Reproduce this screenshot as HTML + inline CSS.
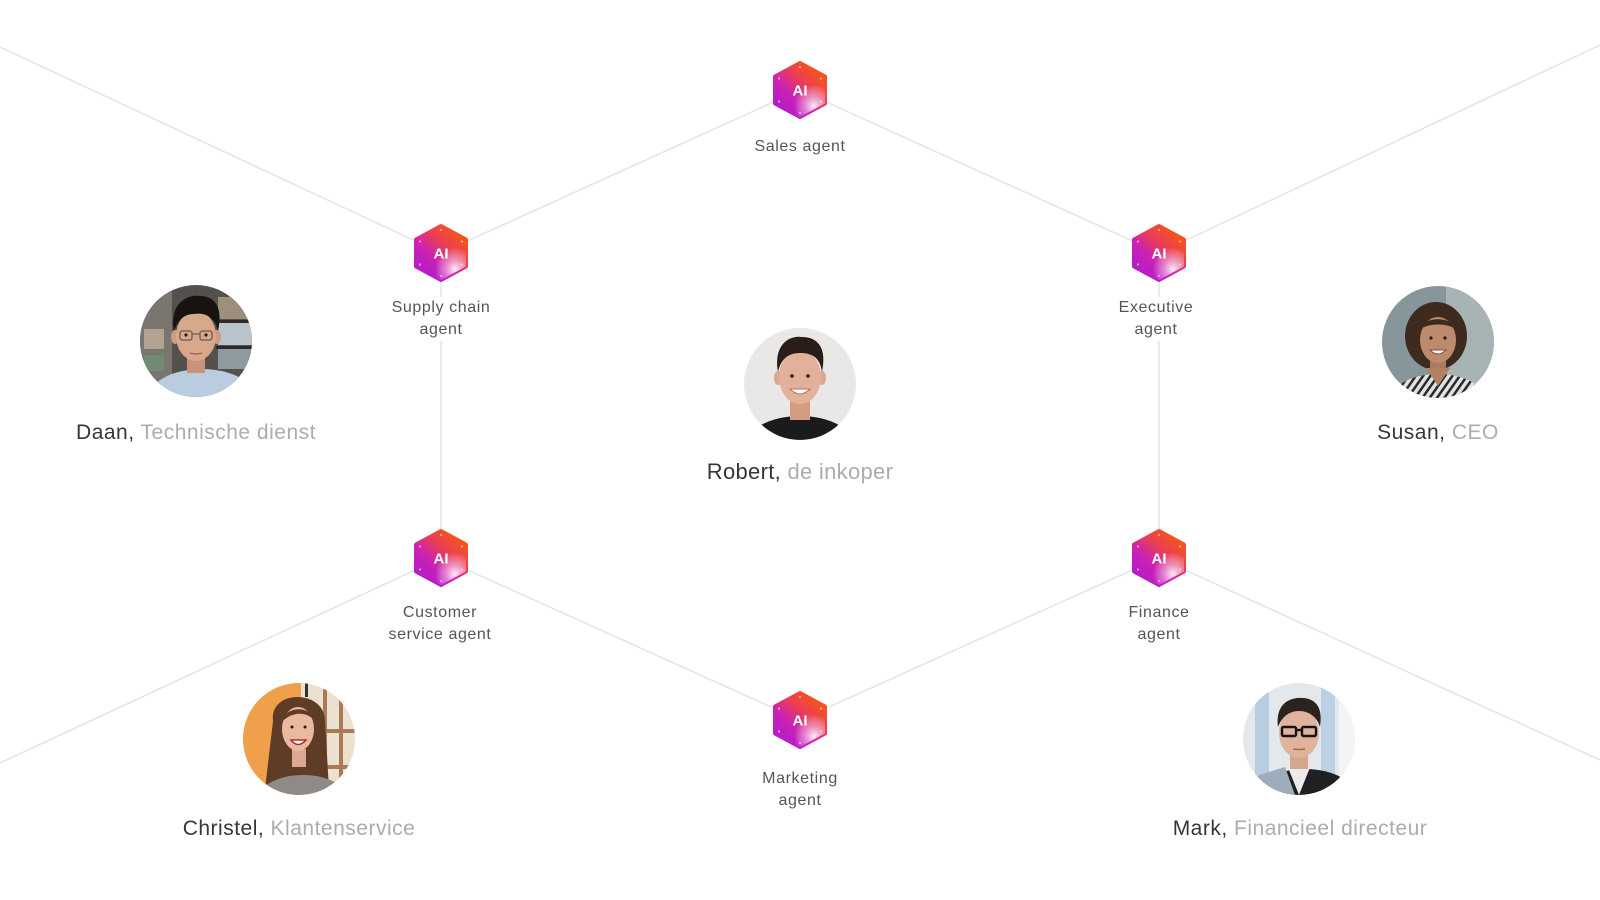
<!DOCTYPE html>
<html>
<head>
<meta charset="utf-8">
<style>
  html,body{margin:0;padding:0;background:#fff;}
  body{width:1600px;height:900px;overflow:hidden;}
  svg{display:block;}
  .al{font-family:"Liberation Sans",sans-serif;font-size:16px;fill:#555;letter-spacing:0.6px;}
  .nm{font-family:"Liberation Sans",sans-serif;font-size:21px;fill:#363636;letter-spacing:0.5px;}
  .rl{fill:#acacac;}
  .ai{font-family:"Liberation Sans",sans-serif;font-size:15px;font-weight:bold;fill:#fff;}
</style>
</head>
<body>
<svg width="1600" height="900" viewBox="0 0 1600 900" xmlns="http://www.w3.org/2000/svg">
  <defs>
    <linearGradient id="hg" x1="0.8" y1="0.05" x2="0.15" y2="0.85">
      <stop offset="0" stop-color="#f4561a"/>
      <stop offset="0.35" stop-color="#ec3f50"/>
      <stop offset="0.7" stop-color="#cb20b6"/>
      <stop offset="1" stop-color="#b61dc6"/>
    </linearGradient>
    <radialGradient id="hw" cx="0.78" cy="0.8" r="0.4">
      <stop offset="0" stop-color="#ffffff" stop-opacity="0.92"/>
      <stop offset="0.5" stop-color="#f6d6f4" stop-opacity="0.5"/>
      <stop offset="1" stop-color="#ffffff" stop-opacity="0"/>
    </radialGradient>
    <g id="hex">
      <polygon points="0,-27 25,-13.5 25,13.5 0,27 -25,13.5 -25,-13.5" fill="url(#hg)" stroke="url(#hg)" stroke-width="4" stroke-linejoin="round"/>
      <polygon points="0,-27 25,-13.5 25,13.5 0,27 -25,13.5 -25,-13.5" fill="url(#hw)" stroke="none"/>
      <g fill="#fff" fill-opacity="0.55">
        <circle cx="0" cy="-23" r="1.1"/><circle cx="21" cy="-11.5" r="1.1"/><circle cx="21" cy="11.5" r="1.1"/>
        <circle cx="0" cy="23" r="1.1"/><circle cx="-21" cy="11.5" r="1.1"/><circle cx="-21" cy="-11.5" r="1.1"/>
      </g>
      <text class="ai" x="0" y="5.5" text-anchor="middle">AI</text>
    </g>
    <clipPath id="cc"><circle cx="0" cy="0" r="56"/></clipPath>
    <pattern id="stripes" width="6" height="6" patternUnits="userSpaceOnUse" patternTransform="rotate(35)">
      <rect width="6" height="6" fill="#e2e2e2"/>
      <rect width="2.5" height="6" fill="#2a2a2a"/>
    </pattern>
  </defs>

  <!-- connector lines -->
  <g stroke="#e4e4e4" stroke-width="1.5" fill="none">
    <line x1="0" y1="47" x2="441" y2="253"/>
    <line x1="441" y1="253" x2="800" y2="90"/>
    <line x1="800" y1="90" x2="1159" y2="253"/>
    <line x1="1159" y1="253" x2="1600" y2="45"/>
    <line x1="441" y1="282" x2="441" y2="297"/>
    <line x1="441" y1="341" x2="441" y2="532"/>
    <line x1="1159" y1="282" x2="1159" y2="297"/>
    <line x1="1159" y1="341" x2="1159" y2="532"/>
    <line x1="0" y1="763" x2="441" y2="558"/>
    <line x1="441" y1="558" x2="800" y2="720"/>
    <line x1="800" y1="720" x2="1159" y2="558"/>
    <line x1="1159" y1="558" x2="1600" y2="760"/>
  </g>

  <!-- AI hexes -->
  <use href="#hex" x="800" y="90"/>
  <use href="#hex" x="441" y="253"/>
  <use href="#hex" x="1159" y="253"/>
  <use href="#hex" x="441" y="558"/>
  <use href="#hex" x="1159" y="558"/>
  <use href="#hex" x="800" y="720"/>

  <!-- agent labels -->
  <text class="al" x="800" y="151" text-anchor="middle">Sales agent</text>
  <text class="al" x="441" y="312" text-anchor="middle">Supply chain</text>
  <text class="al" x="441" y="334" text-anchor="middle">agent</text>
  <text class="al" x="1156" y="312" text-anchor="middle">Executive</text>
  <text class="al" x="1156" y="334" text-anchor="middle">agent</text>
  <text class="al" x="440" y="617" text-anchor="middle">Customer</text>
  <text class="al" x="440" y="639" text-anchor="middle">service agent</text>
  <text class="al" x="1159" y="617" text-anchor="middle">Finance</text>
  <text class="al" x="1159" y="639" text-anchor="middle">agent</text>
  <text class="al" x="800" y="783" text-anchor="middle">Marketing</text>
  <text class="al" x="800" y="805" text-anchor="middle">agent</text>

  <!-- Daan -->
  <g transform="translate(196,341)">
    <g clip-path="url(#cc)">
      <rect x="-56" y="-56" width="112" height="112" fill="#54504c"/>
      <rect x="-56" y="-56" width="32" height="112" fill="#7b756f"/>
      <rect x="-52" y="-12" width="20" height="20" fill="#b2a291"/>
      <rect x="-52" y="14" width="20" height="16" fill="#6f8b72"/>
      <rect x="22" y="-44" width="34" height="22" fill="#9c8f7e"/>
      <rect x="22" y="-18" width="34" height="22" fill="#b8c4c9"/>
      <rect x="22" y="8" width="34" height="20" fill="#8d9ba1"/>
      <rect x="20" y="-21" width="36" height="3" fill="#2d2a27"/>
      <rect x="20" y="5" width="36" height="3" fill="#2d2a27"/>
      <ellipse cx="6" cy="58" rx="54" ry="30" fill="#b9cce0"/>
      <rect x="-9" y="12" width="18" height="20" fill="#c8937a"/>
      <ellipse cx="-21" cy="-4" rx="4" ry="7" fill="#cf9d80"/>
      <ellipse cx="21" cy="-4" rx="4" ry="7" fill="#cf9d80"/>
      <ellipse cx="0" cy="-5" rx="20" ry="25" fill="#d8a88a"/>
      <path d="M-22,-10 C-27,-38 -8,-47 4,-45 C20,-45 27,-32 22,-10 C19,-24 9,-29 -2,-27 C-12,-27 -18,-21 -22,-10 Z" fill="#18130f"/>
      <g fill="none" stroke="#6e5c52" stroke-width="1.3">
        <rect x="-16" y="-10" width="12" height="9" rx="2"/>
        <rect x="4" y="-10" width="12" height="9" rx="2"/>
        <line x1="-4" y1="-7" x2="4" y2="-7"/>
      </g>
      <circle cx="-10" cy="-6" r="1.6" fill="#2a1c15"/>
      <circle cx="10" cy="-6" r="1.6" fill="#2a1c15"/>
      <path d="M-6,12 Q0,14 6,12" stroke="#a86a5a" stroke-width="1.5" fill="none"/>
    </g>
  </g>
  <text class="nm" x="196" y="439" text-anchor="middle">Daan, <tspan class="rl">Technische dienst</tspan></text>

  <!-- Robert -->
  <g transform="translate(800,384)">
    <g clip-path="url(#cc)">
      <rect x="-56" y="-56" width="112" height="112" fill="#e9e8e6"/>
      <ellipse cx="0" cy="64" rx="56" ry="32" fill="#1b1b1d"/>
      <rect x="-10" y="14" width="20" height="22" fill="#d49c83"/>
      <ellipse cx="-22" cy="-6" rx="4" ry="7" fill="#dba78f"/>
      <ellipse cx="22" cy="-6" rx="4" ry="7" fill="#dba78f"/>
      <ellipse cx="0" cy="-7" rx="21" ry="27" fill="#e3b199"/>
      <path d="M-22,-12 C-27,-40 -10,-49 2,-47 C18,-47 27,-36 22,-12 C20,-26 13,-31 0,-31 C-12,-31 -19,-25 -22,-12 Z" fill="#2a1c16"/>
      <circle cx="-8" cy="-8" r="1.8" fill="#2b1d17"/>
      <circle cx="8" cy="-8" r="1.8" fill="#2b1d17"/>
      <path d="M-10,5 Q0,15 10,5 Z" fill="#fff" stroke="#b5705e" stroke-width="1"/>
    </g>
  </g>
  <text class="nm" x="800" y="479" text-anchor="middle" style="font-size:22px;letter-spacing:0.3px">Robert, <tspan class="rl">de inkoper</tspan></text>

  <!-- Susan -->
  <g transform="translate(1438,342)">
    <g clip-path="url(#cc)">
      <rect x="-56" y="-56" width="112" height="112" fill="#87969a"/>
      <rect x="8" y="-56" width="48" height="112" fill="#a8b3b5"/>
      <ellipse cx="-2" cy="-6" rx="31" ry="34" fill="#3e2a1f"/>
      <ellipse cx="0" cy="62" rx="50" ry="30" fill="url(#stripes)"/>
      <rect x="-8" y="12" width="16" height="18" fill="#a97b5f"/>
      <path d="M-12,26 L0,44 L12,26 Z" fill="#b08163"/>
      <ellipse cx="0" cy="-2" rx="18" ry="23" fill="#bc8b6c"/>
      <path d="M-20,-10 C-18,-26 16,-28 20,-10 C14,-20 -14,-20 -20,-10 Z" fill="#3e2a1f"/>
      <circle cx="-7" cy="-4" r="1.6" fill="#2a1a12"/>
      <circle cx="7" cy="-4" r="1.6" fill="#2a1a12"/>
      <path d="M-8,8 Q0,16 8,8 Z" fill="#fff" stroke="#8a4a3a" stroke-width="1"/>
    </g>
  </g>
  <text class="nm" x="1438" y="439" text-anchor="middle">Susan, <tspan class="rl">CEO</tspan></text>

  <!-- Christel -->
  <g transform="translate(299,739)">
    <g clip-path="url(#cc)">
      <rect x="-56" y="-56" width="112" height="112" fill="#ece0d0"/>
      <rect x="-56" y="-56" width="58" height="112" fill="#f0a04a"/>
      <rect x="24" y="-50" width="4" height="100" fill="#a87a58"/>
      <rect x="40" y="-50" width="4" height="100" fill="#a87a58"/>
      <rect x="20" y="-10" width="36" height="4" fill="#a87a58"/>
      <rect x="20" y="26" width="36" height="4" fill="#a87a58"/>
      <rect x="6" y="-56" width="3" height="14" fill="#333"/>
      <path d="M-26,-18 C-30,-50 26,-50 26,-18 L30,50 L-34,50 Z" fill="#5e3c26"/>
      <ellipse cx="4" cy="64" rx="48" ry="28" fill="#8d8a88"/>
      <rect x="-7" y="10" width="14" height="18" fill="#dca88f"/>
      <ellipse cx="-1" cy="-10" rx="16" ry="22" fill="#eab9a0"/>
      <path d="M-18,-16 C-14,-34 12,-34 16,-18 C8,-28 -8,-28 -18,-16 Z" fill="#5e3c26"/>
      <circle cx="-7" cy="-12" r="1.5" fill="#2a1a12"/>
      <circle cx="6" cy="-12" r="1.5" fill="#2a1a12"/>
      <path d="M-8,1 Q-1,10 7,1 Z" fill="#fff" stroke="#b02a30" stroke-width="1.5"/>
    </g>
  </g>
  <text class="nm" x="299" y="835" text-anchor="middle">Christel, <tspan class="rl">Klantenservice</tspan></text>

  <!-- Mark -->
  <g transform="translate(1299,739)">
    <g clip-path="url(#cc)">
      <rect x="-56" y="-56" width="112" height="112" fill="#e3e8ec"/>
      <rect x="-44" y="-56" width="14" height="112" fill="#b8cde0"/>
      <rect x="22" y="-56" width="14" height="112" fill="#bcd0e3"/>
      <rect x="40" y="-56" width="16" height="112" fill="#f2f4f6"/>
      <ellipse cx="6" cy="62" rx="54" ry="32" fill="#1f1f24"/>
      <path d="M-56,56 L-40,36 L-14,28 L-4,56 Z" fill="#9eacbc"/>
      <path d="M-12,26 L0,56 L12,26 Z" fill="#ecebe9"/>
      <rect x="-9" y="12" width="18" height="18" fill="#d3a68f"/>
      <ellipse cx="0" cy="-6" rx="20" ry="25" fill="#dfb39c"/>
      <path d="M-21,-12 C-24,-38 -6,-42 4,-41 C18,-40 24,-30 21,-12 C18,-22 10,-28 0,-28 C-10,-28 -17,-22 -21,-12 Z" fill="#2b2320"/>
      <g fill="none" stroke="#151515" stroke-width="2.4">
        <rect x="-17" y="-12" width="14" height="9" rx="1.5"/>
        <rect x="3" y="-12" width="14" height="9" rx="1.5"/>
        <line x1="-3" y1="-9" x2="3" y2="-9"/>
      </g>
      <path d="M-6,10 Q0,11 6,10" stroke="#a06a5a" stroke-width="1.5" fill="none"/>
    </g>
  </g>
  <text class="nm" x="1300" y="835" text-anchor="middle">Mark, <tspan class="rl">Financieel directeur</tspan></text>
</svg>
</body>
</html>
